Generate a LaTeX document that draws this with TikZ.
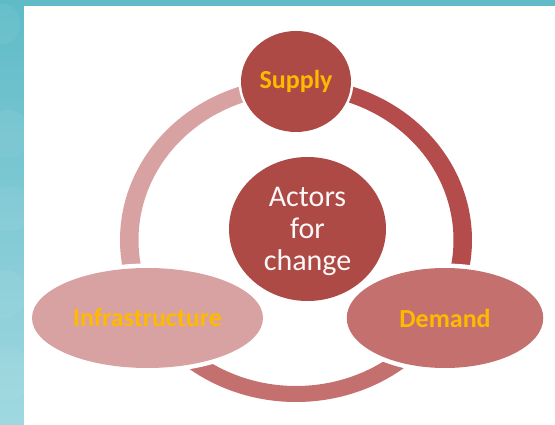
\documentclass[tikz,border=0pt]{standalone}
\usepackage{fontspec}
\setmainfont{Carlito}
\usetikzlibrary{shapes.geometric}
\definecolor{deep}{HTML}{AD4A45}
\definecolor{arcA}{HTML}{B34C4A}
\definecolor{mid}{HTML}{C4706E}
\definecolor{pale}{HTML}{D8A2A2}
\definecolor{gold}{HTML}{FFBA00}
\definecolor{tealtop}{HTML}{5FBBC8}
\definecolor{tealbot}{HTML}{A0D8E0}
\tikzset{
  blob/.style={ellipse,inner sep=0pt,outer sep=0pt,align=center},
  halo/.style={preaction={draw=white,line width=#1}},
  outerlabel/.style={text=gold,font=\fontsize{26}{30}\selectfont\bfseries},
  innerlabel/.style={text=white!96!deep,font=\fontsize{30}{32}\selectfont},
  patch/.style={fill=white,opacity=.05,draw=none}
}
\newcommand{\ringseg}[3]{%
  \fill[#3] ([shift={(#1:176pt and 162pt)}]ring) arc[start angle=#1,end angle=#2,x radius=176pt,y radius=162pt]
    -- ([shift={(#2:157.5pt and 146pt)}]ring) arc[start angle=#2,end angle=#1,x radius=157.5pt,y radius=146pt] -- cycle;}
\begin{document}
\begin{tikzpicture}[x=1pt,y=1pt]
\useasboundingbox (0,0) rectangle (555,424);
% teal backdrop
\shade[top color=tealtop,bottom color=tealbot] (0,0) rectangle (555,424);
\begin{scope}
\clip (0,0) rectangle (24,424);
\fill[patch] (8,290) ellipse (22 and 24);
\fill[patch] (10,215) ellipse (24 and 22);
\fill[patch] (6,130) ellipse (20 and 24);
\fill[patch] (8,50) ellipse (24 and 26);
\fill[patch] (4,400) ellipse (16 and 20);
\end{scope}
% white panel
\fill[white] (24,-1) rectangle (556,418);
\coordinate (ring) at (296,184);
\ringseg{95}{200}{pale}
\ringseg{-135}{-45}{mid}
\ringseg{-20}{85}{arcA}
\node[blob,halo=5pt,fill=deep,minimum width=110pt,minimum height=101pt,outerlabel] (supply) at (296,342.5) {Supply};
\node[blob,halo=9pt,fill=pale,minimum width=231pt,minimum height=100pt,outerlabel] (infra) at (147.5,106) {Infrastructure};
\node[blob,halo=9pt,fill=mid,minimum width=196.5pt,minimum height=100pt,outerlabel] (demand) at (445,106) {Demand};
\node[blob,fill=deep,minimum width=157pt,minimum height=144pt,innerlabel] (actors) at (307.5,195) {\rule{0pt}{25pt}Actors\\for\\change};
\end{tikzpicture}
\end{document}
